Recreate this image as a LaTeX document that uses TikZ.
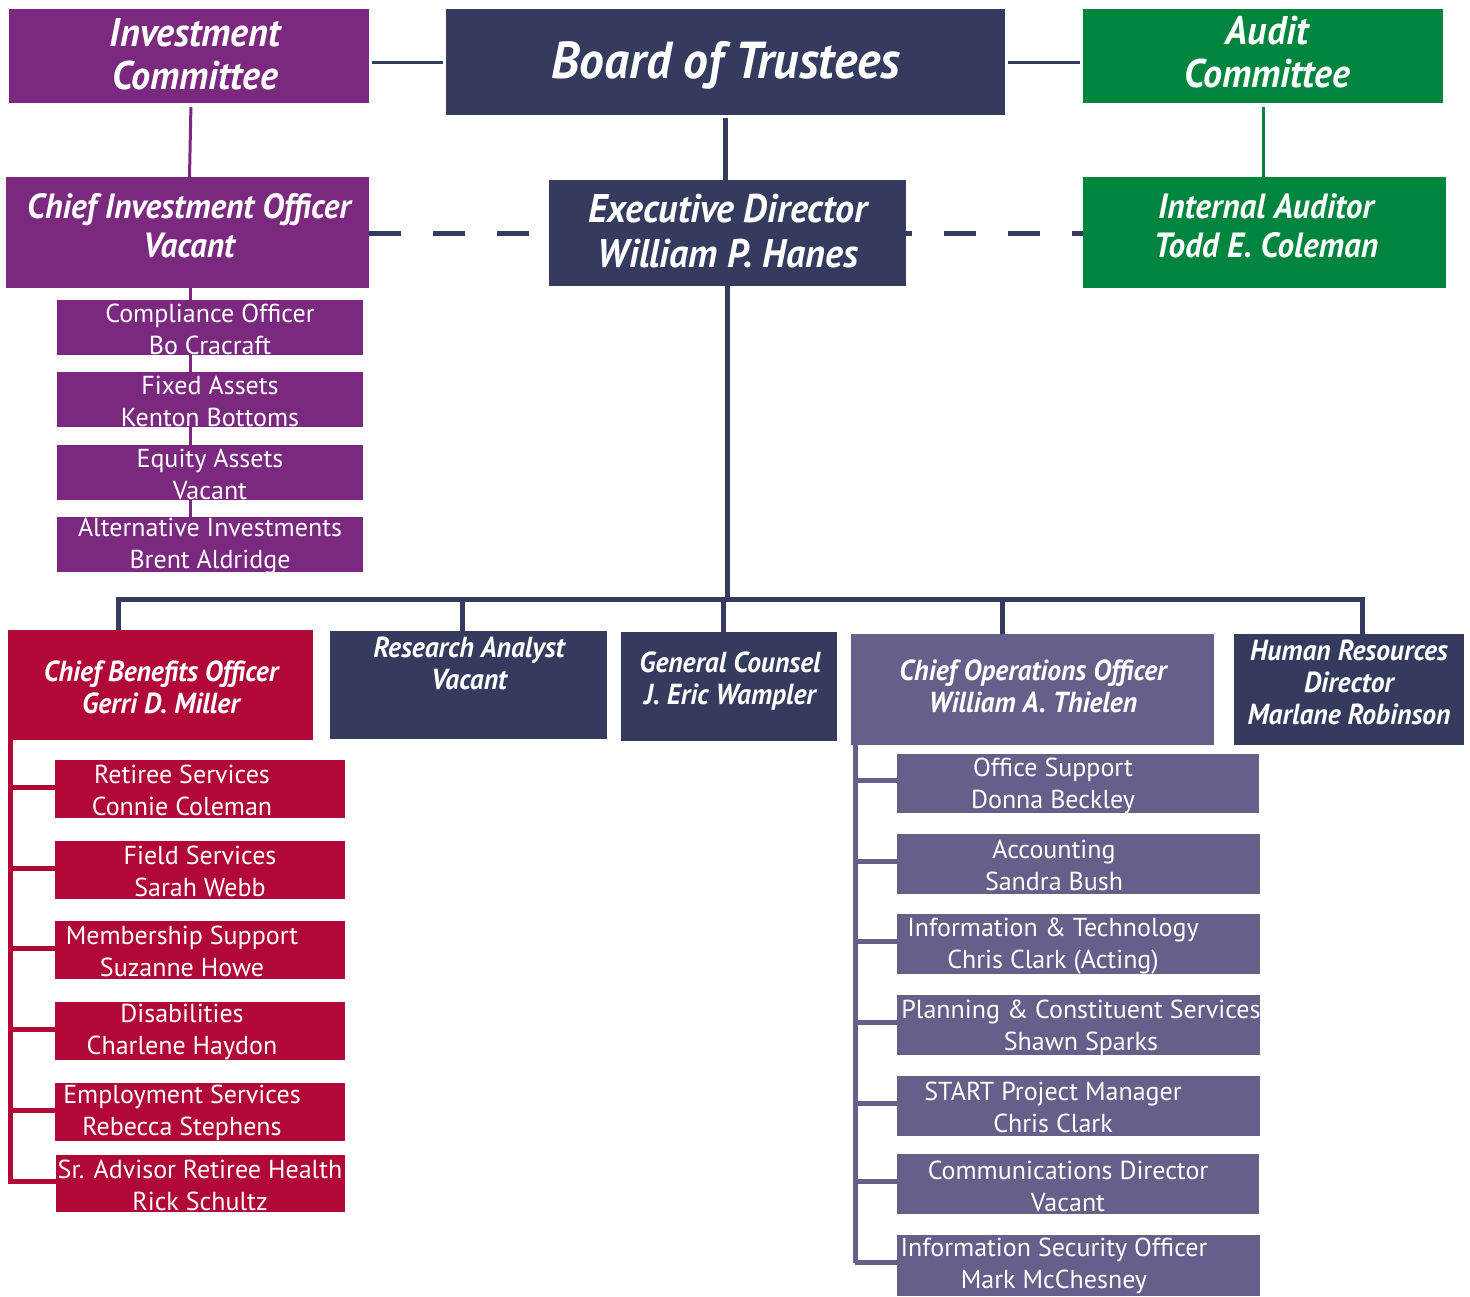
\documentclass[tikz,border=0pt]{standalone}
\usepackage{fontspec}
\setmainfont{PT Sans}
\newfontfamily\cond[FakeStretch=0.95]{PT Sans}
\definecolor{cPur}{RGB}{123,41,127}
\definecolor{cNav}{RGB}{53,59,95}
\definecolor{cGrn}{RGB}{0,133,62}
\definecolor{cRed}{RGB}{178,8,56}
\definecolor{cSla}{RGB}{101,95,138}
\newcommand\mkbox[6]{\node[boxst,fill=#6,minimum width={(#4-#2)*1pt},minimum height={(#5-#3)*1pt}] (#1) at ({(#2+#4)/2},{(#3+#5)/2}) {};}
\begin{document}
\begin{tikzpicture}[x=1pt,y=-1pt,
  boxst/.style={rectangle,draw=none,inner sep=0pt,outer sep=0pt},
  txt/.style={text=white,align=center,inner sep=0pt},
  tbig/.style={txt,font=\cond\bfseries\itshape\fontsize{40}{43}\selectfont},
  tboard/.style={txt,font=\cond\bfseries\itshape\fontsize{52}{60}\selectfont},
  tsec/.style={txt,font=\cond\bfseries\itshape\fontsize{35}{39}\selectfont},
  ted/.style={txt,font=\cond\bfseries\itshape\fontsize{40}{45}\selectfont},
  tthr/.style={txt,font=\cond\bfseries\itshape\fontsize{29}{32}\selectfont},
  tsub/.style={txt,font=\fontsize{26}{32}\selectfont},
  lnav/.style={draw=cNav,line width=5pt},
  lnavt/.style={draw=cNav,line width=3pt},
  lpur/.style={draw=cPur,line width=3pt},
  lgrn/.style={draw=cGrn,line width=3pt},
  lred/.style={draw=cRed,line width=5pt},
  lsla/.style={draw=cSla,line width=5pt},
  ldash/.style={draw=cNav,line width=5pt,dash pattern=on 32pt off 32pt}
]
\useasboundingbox (0,0) rectangle (1470,1296);

% ---------- boxes ----------
\mkbox{ic}{9}{9}{369}{103}{cPur}
\mkbox{board}{446}{9}{1005}{115}{cNav}
\mkbox{audit}{1083}{9}{1443}{103}{cGrn}
\mkbox{cio}{6}{177}{369}{288}{cPur}
\mkbox{ed}{549}{180}{906}{286}{cNav}
\mkbox{ia}{1083}{177}{1446}{288}{cGrn}

\mkbox{comp}{57}{300}{363}{355}{cPur}
\mkbox{fixed}{57}{372}{363}{427}{cPur}
\mkbox{equity}{57}{445}{363}{500}{cPur}
\mkbox{alt}{57}{517}{363}{572}{cPur}

\mkbox{cbo}{8}{630}{313}{740}{cRed}
\mkbox{ra}{330}{631}{607}{739}{cNav}
\mkbox{gc}{621}{632}{837}{741}{cNav}
\mkbox{coo}{851}{634}{1214}{745}{cSla}
\mkbox{hr}{1234}{634}{1464}{745}{cNav}

\mkbox{rs}{55}{760}{345}{818}{cRed}
\mkbox{fs}{55}{841}{345}{899}{cRed}
\mkbox{ms}{55}{921}{345}{979}{cRed}
\mkbox{dis}{55}{1002}{345}{1060}{cRed}
\mkbox{es}{55}{1083}{345}{1141}{cRed}
\mkbox{sr}{56}{1155}{345}{1212}{cRed}

\mkbox{os}{897}{754}{1259}{813}{cSla}
\mkbox{acc}{897}{834}{1260}{894}{cSla}
\mkbox{it}{897}{914}{1260}{974}{cSla}
\mkbox{pcs}{897}{995}{1260}{1055}{cSla}
\mkbox{spm}{897}{1076}{1260}{1136}{cSla}
\mkbox{cd}{897}{1154}{1259}{1214}{cSla}
\mkbox{iso}{897}{1235}{1260}{1296}{cSla}

% ---------- texts ----------
\node[tbig] (ic-t) at (195,54) {Investment\\Committee};
\node[tboard] (board-t) at (726,65) {Board of Trustees};
\node[tbig] (audit-t) at (1267,52) {Audit\\Committee};
\node[tsec] (cio-t) at (189,226) {Chief Investment Officer\\Vacant};
\node[ted] (ed-t) at (728,231) {Executive Director\\William P. Hanes};
\node[tsec] (ia-t) at (1266,226) {Internal Auditor\\Todd E. Coleman};

\node[tsub] (comp-t) at (210,329) {Compliance Officer\\Bo Cracraft};
\node[tsub] (fixed-t) at (210,401) {Fixed Assets\\Kenton Bottoms};
\node[tsub] (equity-t) at (210,474) {Equity Assets\\Vacant};
\node[tsub] (alt-t) at (210,546) {Alternative Investments\\Brent Aldridge};

\node[tthr] (cbo-t) at (161,687) {Chief Benefits Officer\\Gerri D. Miller};
\node[tthr] (ra-t) at (469,663) {Research Analyst\\Vacant};
\node[tthr] (gc-t) at (730,681) {General Counsel\\J. Eric Wampler};
\node[tthr] (coo-t) at (1033,686) {Chief Operations Officer\\William A. Thielen};
\node[tthr] (hr-t) at (1349,682) {Human Resources\\Director\\Marlane Robinson};

\node[tsub] (rs-t) at (182,790) {Retiree Services\\Connie Coleman};
\node[tsub] (fs-t) at (200,871) {Field Services\\Sarah Webb};
\node[tsub] (ms-t) at (182,951) {Membership Support\\Suzanne Howe};
\node[tsub] (dis-t) at (182,1032) {Disabilities\\Charlene Haydon};
\node[tsub] (es-t) at (182,1113) {Employment Services\\Rebecca Stephens};
\node[tsub] (sr-t) at (200,1185) {Sr. Advisor Retiree Health\\Rick Schultz};

\node[tsub] (os-t) at (1053,786) {Office Support\\Donna Beckley};
\node[tsub] (acc-t) at (1054,865) {Accounting\\Sandra Bush};
\node[tsub] (it-t) at (1053,946) {Information \& Technology\\Chris Clark (Acting)};
\node[tsub] (pcs-t) at (1081,1028) {Planning \& Constituent Services\\Shawn Sparks};
\node[tsub] (spm-t) at (1053,1107) {START Project Manager\\Chris Clark};
\node[tsub] (cd-t) at (1068,1186) {Communications Director\\Vacant};
\node[tsub] (iso-t) at (1054,1266) {Information Security Officer\\Mark McChesney};

% ---------- connectors ----------
\draw[lnavt,shorten <=3pt,shorten >=3pt] (ic.east |- board.west) -- (board.west);
\draw[lnavt,shorten <=3pt,shorten >=3pt] (board.east) -- (board.east -| audit.west);
\draw[lpur,shorten <=4pt] ([xshift=2pt]ic.south) -- ([xshift=2pt]cio.north);
\draw[lgrn,shorten <=4pt] (audit.south) -- (audit.south |- ia.north);
\draw[lnav,shorten <=3pt] (board.south) -- (board.south |- ed.north);
\draw[ldash] (cio.east |- ed.west) -- (ed.west);
\draw[ldash,dash phase=26pt] (ed.east) -- (ed.east -| ia.west);

\draw[lpur] ([xshift=3pt]cio.south) -- ([xshift=3pt]cio.south |- comp.north);
\draw[lpur] ([xshift=3pt]cio.south |- comp.south) -- ([xshift=3pt]cio.south |- fixed.north);
\draw[lpur] ([xshift=3pt]cio.south |- fixed.south) -- ([xshift=3pt]cio.south |- equity.north);
\draw[lpur] ([xshift=3pt]cio.south |- equity.south) -- ([xshift=3pt]cio.south |- alt.north);

\coordinate (busL) at (118,599);
\coordinate (busR) at (1362,599);
\draw[lnav] (ed.south) -- (ed.south |- busL);
\draw[lnav,line cap=rect] (busL) -- (busR);
\draw[lnav] (busL) -- (busL |- cbo.north);
\draw[lnav] ([xshift=-6pt]ra.north |- busL) -- ([xshift=-6pt]ra.north);
\draw[lnav] ([xshift=-6pt]gc.north |- busL) -- ([xshift=-6pt]gc.north);
\draw[lnav] ([xshift=-30pt]coo.north |- busL) -- ([xshift=-30pt]coo.north);
\draw[lnav] (busR) -- (busR |- hr.north);

% benefits branch
\coordinate (rtop) at ([xshift=2.5pt]cbo.south west);
\draw[lred] (rtop) -- (rtop |- sr.west);
\foreach \n in {rs,fs,ms,dis,es,sr}{
  \draw[lred] ([yshift=2pt]\n.west -| rtop) -- ([yshift=2pt]\n.west);
}
% operations branch
\coordinate (otop) at ([xshift=4pt]coo.south west);
\draw[lsla] (otop) -- ([yshift=3pt]otop |- iso.west);
\foreach \n in {os,acc,it,pcs,spm,cd,iso}{
  \draw[lsla] ([yshift=3pt]\n.west -| otop) -- ([yshift=3pt]\n.west);
}
\end{tikzpicture}
\end{document}
